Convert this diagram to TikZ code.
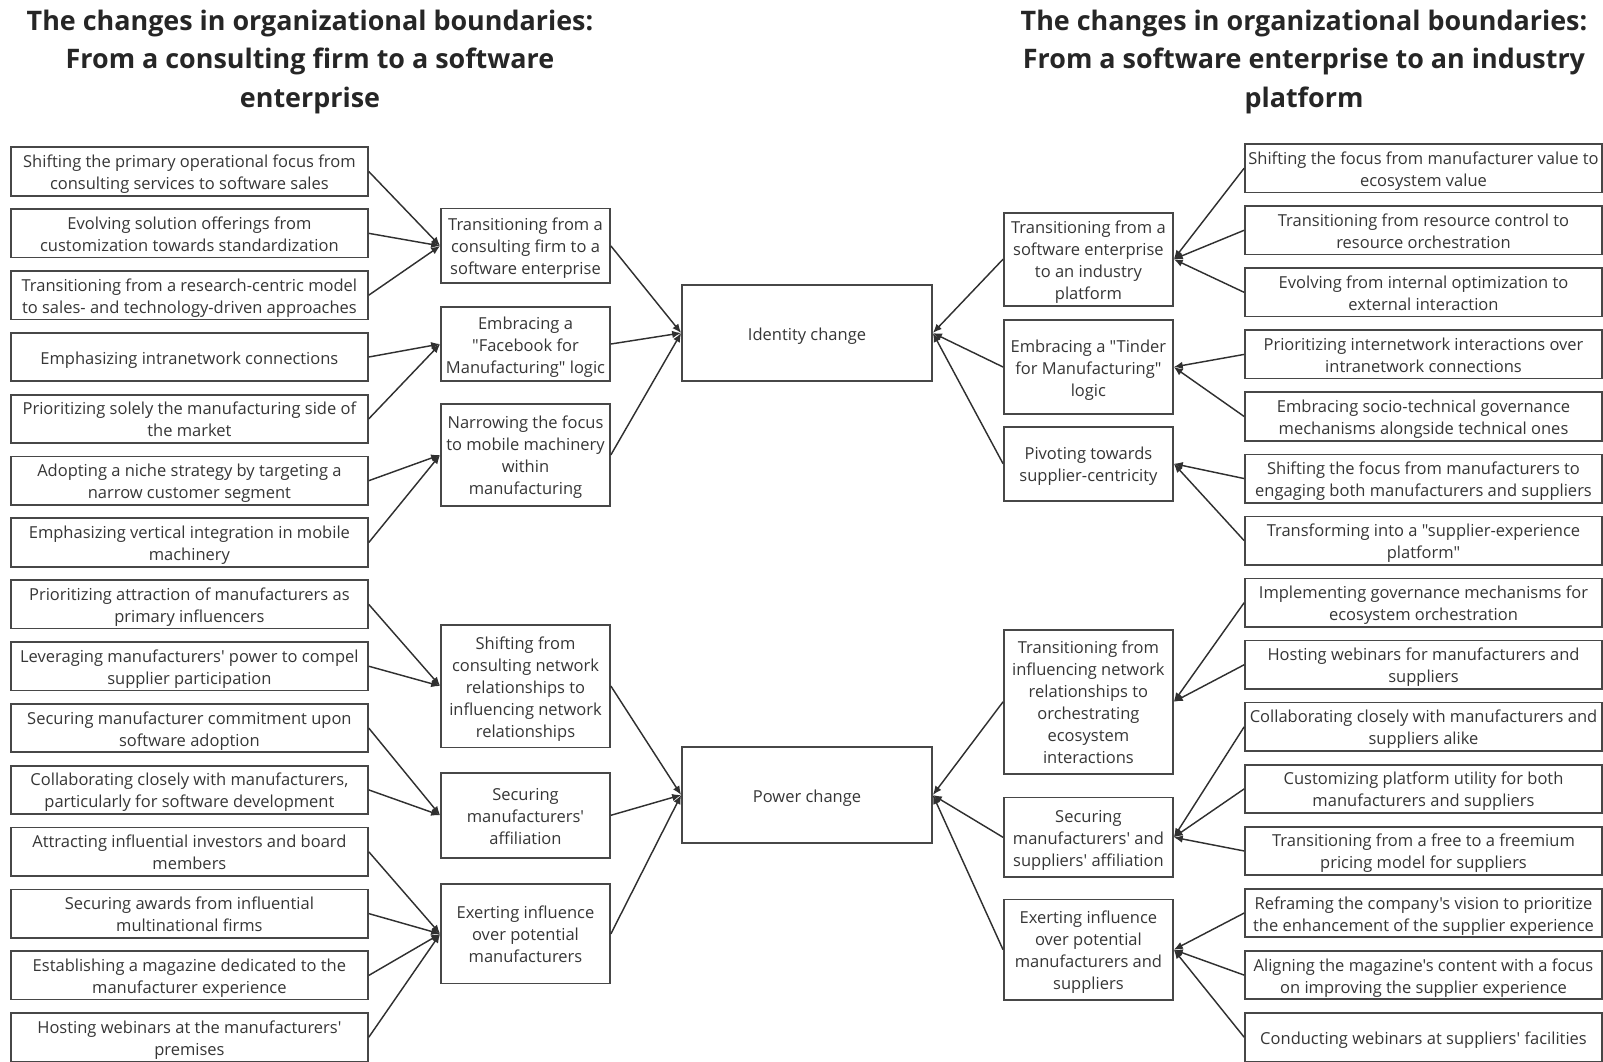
\documentclass[tikz,border=0pt]{standalone}
\usepackage{fontspec}
\newfontfamily\osans{Open Sans}
\usetikzlibrary{arrows.meta}
\definecolor{ink}{HTML}{363636}
\definecolor{edge}{HTML}{474747}
\definecolor{wire}{HTML}{303030}
% fixed line struts so every text block sits the same way in its box
\newcommand{\boxtext}[1]{\rule{0pt}{18pt}#1\rule[-4pt]{0pt}{4pt}}
\tikzset{
  base/.style={draw=edge, line width=1.7pt, fill=white, inner sep=0pt, align=center,
    text=ink, font=\osans\fontsize{16.5}{22}\selectfont},
  leaf/.style={base, minimum width=357pt, minimum height=48.4pt},
  mid/.style={base, minimum width=169pt},
  core/.style={base, minimum width=250pt, minimum height=96pt},
  heading/.style={align=center, text=black!85, inner sep=0pt,
    font=\osans\bfseries\fontsize{26.9}{38.5}\selectfont},
  arr/.style={draw=wire, line width=1.45pt, -{Latex[length=9pt,width=7.5pt]}}
}
\begin{document}
\begin{tikzpicture}[x=1pt,y=-1pt]
\useasboundingbox (0,0) rectangle (1603,1062);

% headings
\node[heading] (tl) at (310,62) {The changes in organizational boundaries:\\From a consulting firm to a software\\enterprise};
\node[heading] (tr) at (1304,62) {The changes in organizational boundaries:\\From a software enterprise to an industry\\platform};

% core dimensions
\node[core] (ID) at (807,333) {\boxtext{Identity change}};
\node[core] (PW) at (807,795) {\boxtext{Power change}};

% left-hand mechanisms
\foreach \t [count=\i] in {
  {Shifting the primary operational focus from\\consulting services to software sales},
  {Evolving solution offerings from\\customization towards standardization},
  {Transitioning from a research-centric model\\to sales- and technology-driven approaches},
  {Emphasizing intranetwork connections},
  {Prioritizing solely the manufacturing side of\\the market},
  {Adopting a niche strategy by targeting a\\narrow customer segment},
  {Emphasizing vertical integration in mobile\\machinery},
  {Prioritizing attraction of manufacturers as\\primary influencers},
  {Leveraging manufacturers' power to compel\\supplier participation},
  {Securing manufacturer commitment upon\\software adoption},
  {Collaborating closely with manufacturers,\\particularly for software development},
  {Attracting influential investors and board\\members},
  {Securing awards from influential\\multinational firms},
  {Establishing a magazine dedicated to the\\manufacturer experience},
  {Hosting webinars at the manufacturers'\\premises}}
  \node[leaf] (L\i) at (189.4,{171.5+(\i-1)*61.84}) {\boxtext{\t}};

% right-hand mechanisms
\foreach \t [count=\i] in {
  {Shifting the focus from manufacturer value to\\ecosystem value},
  {Transitioning from resource control to\\resource orchestration},
  {Evolving from internal optimization to\\external interaction},
  {Prioritizing internetwork interactions over\\intranetwork connections},
  {Embracing socio-technical governance\\mechanisms alongside technical ones},
  {Shifting the focus from manufacturers to\\engaging both manufacturers and suppliers},
  {Transforming into a "supplier-experience\\platform"},
  {Implementing governance mechanisms for\\ecosystem orchestration},
  {Hosting webinars for manufacturers and\\suppliers},
  {Collaborating closely with manufacturers and\\suppliers alike},
  {Customizing platform utility for both\\manufacturers and suppliers},
  {Transitioning from a free to a freemium\\pricing model for suppliers},
  {Reframing the company's vision to prioritize\\the enhancement of the supplier experience},
  {Aligning the magazine's content with a focus\\on improving the supplier experience},
  {Conducting webinars at suppliers' facilities}}
  \node[leaf] (R\i) at (1423.5,{168.2+(\i-1)*62.07}) {\boxtext{\t}};

% left-hand themes
\node[mid, minimum height=74.7pt]  (A) at (525.5,245.9) {\boxtext{Transitioning from a\\consulting firm to a\\software enterprise}};
\node[mid, minimum height=74.6pt]  (B) at (525.5,344.0) {\boxtext{Embracing a\\"Facebook for\\Manufacturing" logic}};
\node[mid, minimum height=101.7pt] (C) at (525.5,454.9) {\boxtext{Narrowing the focus\\to mobile machinery\\within\\manufacturing}};
\node[mid, minimum height=122.7pt] (D) at (525.5,686.0) {\boxtext{Shifting from\\consulting network\\relationships to\\influencing network\\relationships}};
\node[mid, minimum height=84.8pt]  (E) at (525.5,815.3) {\boxtext{Securing\\manufacturers'\\affiliation}};
\node[mid, minimum height=99.2pt]  (F) at (525.5,933.9) {\boxtext{Exerting influence\\over potential\\manufacturers}};

% right-hand themes
\node[mid, minimum height=93.1pt]  (G) at (1088.4,259.2) {\boxtext{Transitioning from a\\software enterprise\\to an industry\\platform}};
\node[mid, minimum height=94pt]    (H) at (1088.4,367.0) {\boxtext{Embracing a "Tinder\\for Manufacturing"\\logic}};
\node[mid, minimum height=74pt]    (I) at (1088.4,463.7) {\boxtext{Pivoting towards\\supplier-centricity}};
\node[mid, minimum height=144.2pt] (J) at (1088.4,701.8) {\boxtext{Transitioning from\\influencing network\\relationships to\\orchestrating\\ecosystem\\interactions}};
\node[mid, minimum height=79.7pt]  (K) at (1088.4,837.3) {\boxtext{Securing\\manufacturers' and\\suppliers' affiliation}};
\node[mid, minimum height=100.2pt] (L) at (1088.4,949.7) {\boxtext{Exerting influence\\over potential\\manufacturers and\\suppliers}};

% mechanisms -> themes (left)
\foreach \s/\d in {L1/A,L2/A,L3/A,L4/B,L5/B,L6/C,L7/C,L8/D,L9/D,L10/E,L11/E,L12/F,L13/F,L14/F,L15/F}
  \draw[arr] (\s.east) -- (\d.west);
% mechanisms -> themes (right)
\foreach \s/\d in {R1/G,R2/G,R3/G,R4/H,R5/H,R6/I,R7/I,R8/J,R9/J,R10/K,R11/K,R12/K,R13/L,R14/L,R15/L}
  \draw[arr] (\s.west) -- (\d.east);
% themes -> core dimensions
\foreach \s in {A,B,C} \draw[arr] (\s.east) -- (ID.west);
\foreach \s in {D,E,F} \draw[arr] (\s.east) -- (PW.west);
\foreach \s in {G,H,I} \draw[arr] (\s.west) -- (ID.east);
\foreach \s in {J,K,L} \draw[arr] (\s.west) -- (PW.east);
\end{tikzpicture}
\end{document}
